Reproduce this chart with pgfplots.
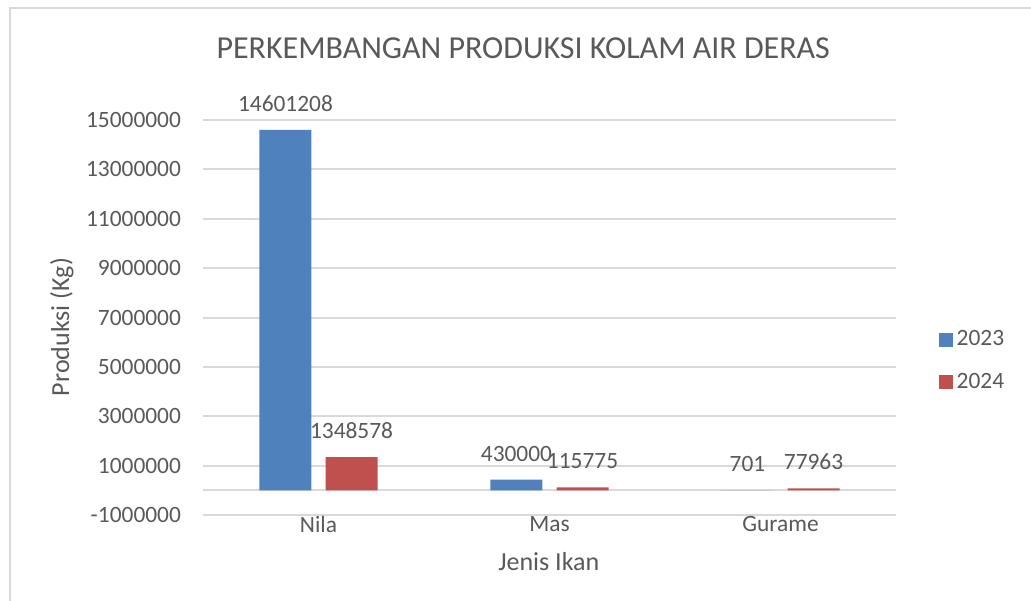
\documentclass[border=0pt]{standalone}
\usepackage{fontspec}
\setmainfont{Carlito}
\usepackage{pgfplots}
\pgfplotsset{compat=1.18}
\definecolor{c2023}{HTML}{4F81BD}
\definecolor{c2024}{HTML}{C0504D}
\definecolor{txt}{HTML}{595959}
\definecolor{gridc}{HTML}{D9D9D9}

\begin{document}
\begin{tikzpicture}
\useasboundingbox (0,0) rectangle (515.5pt,300pt);
\draw[gridc, line width=1pt] (5pt,-2pt) -- (5pt,296pt) -- (520pt,296pt);
\begin{axis}[
  at={(101.5pt,42.5pt)}, anchor=south west,
  scale only axis, width=346.5pt, height=197.5pt,
  xmin=-0.5, xmax=2.5, ymin=-1000000, ymax=15000000,
  ytick={-1000000,1000000,3000000,5000000,7000000,9000000,11000000,13000000,15000000},
  extra y ticks={0}, extra y tick labels={},
  xtick={0,1,2}, xticklabels={Nila,Mas,Gurame},
  axis line style={draw=none}, major tick length=0pt,
  ymajorgrids, grid style={gridc, line width=1pt},
  extra y tick style={grid style={gridc, line width=1pt}},
  tick label style={font=\fontsize{11.7}{14}\selectfont, text=txt},
  /pgf/number format/assume math mode=true,
  yticklabel style={/pgf/number format/fixed, /pgf/number format/1000 sep={}, xshift=-7.5pt},
  xticklabel style={yshift=3pt},
  scaled y ticks=false,
  title={PERKEMBANGAN PRODUKSI KOLAM AIR DERAS},
  title style={at={(0.462,1.182)}, anchor=center, yshift=-6pt, font=\fontsize{16}{19}\selectfont, text=txt},
  ylabel={Produksi (Kg)},
  ylabel style={at={(-0.2035,0.476)}, anchor=center, font=\fontsize{13}{16}\selectfont, text=txt},
  xlabel={Jenis Ikan},
  xlabel style={at={(0.499,-0.119)}, anchor=center, font=\fontsize{13}{16}\selectfont, text=txt},
  ybar, bar width=0.225,
  point meta=explicit symbolic,
  nodes near coords,
  nodes near coords style={font=\fontsize{11.7}{14}\selectfont, text=txt, anchor=south, inner sep=0pt, yshift=9pt},
  legend style={draw=none, fill=none, at={(1.061,0.39)}, anchor=west,
    font=\fontsize{11.7}{14}\selectfont, text=txt, row sep=8pt, inner sep=0pt},
  legend cell align=left,
  legend image code/.code={\fill[#1] (0pt,-3.5pt) rectangle (7pt,3.5pt);},
]
\addplot[fill=c2023, draw=none, bar shift=-0.143] coordinates {(0,14601208) [14601208] (1,430000) [430000] (2,701) [701]};
\addlegendentry{2023}
\addplot[fill=c2024, draw=none, bar shift=0.143] coordinates {(0,1348578) [1348578] (1,115775) [115775] (2,77963) [77963]};
\addlegendentry{2024}
\end{axis}
\end{tikzpicture}
\end{document}
